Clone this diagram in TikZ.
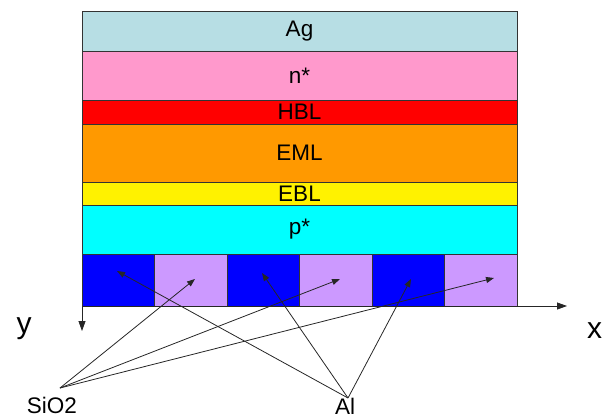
\documentclass[tikz,border=0pt]{standalone}
\usepackage{fontspec}
\setmainfont{Liberation Sans}
\usetikzlibrary{arrows.meta}
\definecolor{agblue}{RGB}{183,222,228}
\definecolor{npink}{RGB}{255,153,204}
\definecolor{emlorange}{RGB}{255,153,0}
\definecolor{pcyan}{RGB}{0,255,255}
\definecolor{alblue}{RGB}{0,0,255}
\definecolor{siolav}{RGB}{204,153,255}

\begin{document}
\begin{tikzpicture}[x=1pt,y=-1pt,>={Triangle[length=8pt,width=6pt]},
  font=\fontsize{22.5}{26}\selectfont,
  layer/.style={draw=black!80,line width=0.8pt,minimum width=435pt,inner sep=0pt,outer sep=0pt,anchor=north west},
  cell/.style={draw=black!80,line width=0.8pt,minimum width=72.5pt,minimum height=52pt,inner sep=0pt,outer sep=0pt,anchor=north west},
  lead/.style={->,black!85,line width=0.8pt}]
\useasboundingbox (0,0) rectangle (604,418);
% layer stack
\node[layer,fill=agblue,minimum height=40pt] (ag) at (82,11) {Ag};
\node[layer,fill=npink,minimum height=49pt] (n) at (ag.south west) {n*};
\node[layer,fill=red,minimum height=24pt] (hbl) at (n.south west) {HBL};
\node[layer,fill=emlorange,minimum height=58pt] (eml) at (hbl.south west) {EML};
\node[layer,fill=yellow,minimum height=23pt] (ebl) at (eml.south west) {EBL};
\node[layer,fill=pcyan,minimum height=49pt] (p) at (ebl.south west) {p*};
% Al / SiO2 row
\node[cell,fill=alblue] (c0) at (p.south west) {};
\node[cell,fill=siolav] (c1) at (c0.north east) {};
\node[cell,fill=alblue] (c2) at (c1.north east) {};
\node[cell,fill=siolav] (c3) at (c2.north east) {};
\node[cell,fill=alblue] (c4) at (c3.north east) {};
\node[cell,fill=siolav] (c5) at (c4.north east) {};
% axes
\coordinate (xend) at (567,306);
\coordinate (yend) at (82,331);
\draw[->,black!85,line width=0.8pt,>={Triangle[length=10pt,width=7pt]}] (c0.south west) -- (xend);
\draw[->,black!85,line width=0.8pt,>={Triangle[length=10pt,width=7pt]}] (c0.south west) -- (yend);
\node[font=\fontsize{30}{32}\selectfont,anchor=base] (ylab) at (24,333) {y};
\node[font=\fontsize{30}{32}\selectfont,anchor=base west,inner sep=0pt] (xlab) at (587,338) {x};
% labels and their leads
\node[anchor=base] (sio) at (52,413) {SiO2};
\node[anchor=base,inner sep=0pt] (al) at (345,414) {Al};
\coordinate (sioroot) at (60,388);
\coordinate (alroot) at (348,398);
\coordinate (t0) at (117,271);
\coordinate (t1) at (195,279);
\coordinate (t2) at (262,273);
\coordinate (t3) at (340,279);
\coordinate (t4) at (411,279);
\coordinate (t5) at (494,278);
\draw[lead] (sioroot) -- (t1);
\draw[lead] (sioroot) -- (t3);
\draw[lead] (sioroot) -- (t5);
\draw[lead] (alroot) -- (t0);
\draw[lead] (alroot) -- (t2);
\draw[lead] (alroot) -- (t4);
\end{tikzpicture}
\end{document}
